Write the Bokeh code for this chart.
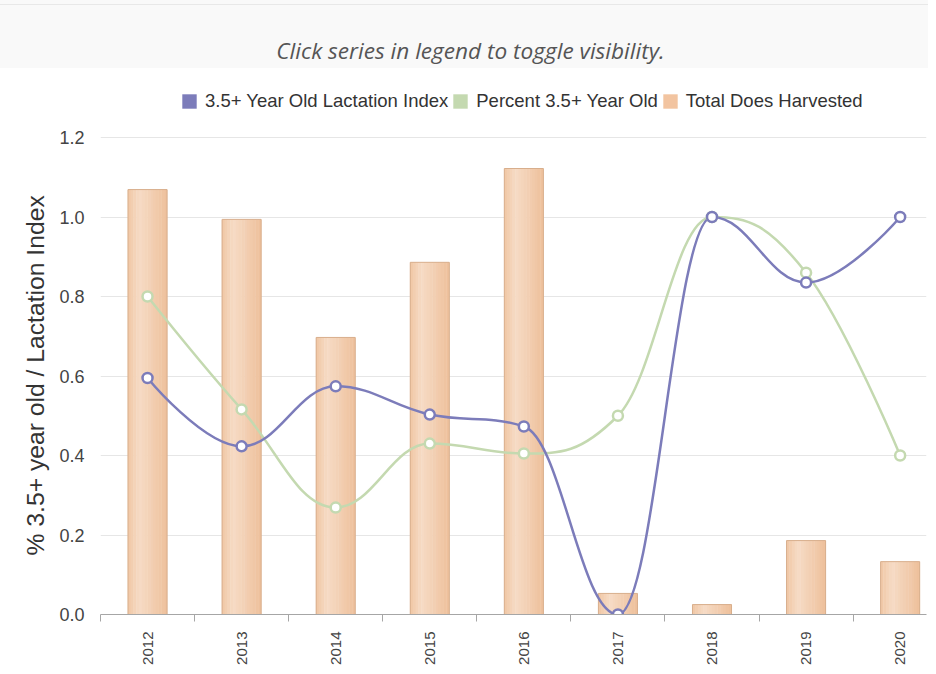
import numpy as np
from bokeh.plotting import figure
from bokeh.models import (Range1d, FixedTicker, PrintfTickFormatter, Legend,
                          LegendItem, Div, ColumnDataSource, Title)
from bokeh.layouts import column
from bokeh.embed import file_html
from bokeh.resources import INLINE

# ---------------- data ----------------
years = ["2012", "2013", "2014", "2015", "2016", "2017", "2018", "2019", "2020"]
lactation_index = [0.595, 0.423, 0.574, 0.503, 0.473, 0.0, 1.0, 0.835, 1.0]
percent_35_old = [0.80, 0.516, 0.269, 0.430, 0.405, 0.50, 1.0, 0.86, 0.40]
does_harvested = [1.069, 0.994, 0.697, 0.886, 1.122, 0.053, 0.025, 0.186, 0.133]
y_ticks = [0.0, 0.2, 0.4, 0.6, 0.8, 1.0, 1.2]

series_names = ["3.5+ Year Old Lactation Index", "Percent 3.5+ Year Old", "Total Does Harvested"]
title_text = "Click series in legend to toggle visibility."
y_label = "% 3.5+ year old / Lactation Index"

# ---------------- styles ----------------
BLUE = "#7c7cba"
GREEN = "#c4d9b0"
PEACH = "#f2c4a0"
BAR_LINE = "#d8ae8c"
FONT = "Liberation Sans"

xs = list(range(len(years)))


def spline_segments(px, py, smoothing=1.5):
    """Highcharts-style spline control points."""
    n = len(px)
    denom = smoothing + 1
    left = [None] * n
    right = [None] * n
    for i in range(1, n - 1):
        x, y = px[i], py[i]
        lx, ly = px[i - 1], py[i - 1]
        nx, ny = px[i + 1], py[i + 1]
        lcx = (smoothing * x + lx) / denom
        lcy = (smoothing * y + ly) / denom
        rcx = (smoothing * x + nx) / denom
        rcy = (smoothing * y + ny) / denom
        corr = 0.0
        if rcx != lcx:
            corr = ((rcy - lcy) * (rcx - x)) / (rcx - lcx) + y - rcy
        lcy += corr
        rcy += corr
        if lcy > ly and lcy > y:
            lcy = max(ly, y)
            rcy = 2 * y - lcy
        elif lcy < ly and lcy < y:
            lcy = min(ly, y)
            rcy = 2 * y - lcy
        if rcy > ny and rcy > y:
            rcy = max(ny, y)
            lcy = 2 * y - rcy
        elif rcy < ny and rcy < y:
            rcy = min(ny, y)
            lcy = 2 * y - rcy
        left[i] = (lcx, lcy)
        right[i] = (rcx, rcy)
    d = dict(x0=[], y0=[], x1=[], y1=[], cx0=[], cy0=[], cx1=[], cy1=[])
    for i in range(1, n):
        c0 = right[i - 1] if right[i - 1] else (px[i - 1], py[i - 1])
        c1 = left[i] if left[i] else (px[i], py[i])
        d["x0"].append(px[i - 1]); d["y0"].append(py[i - 1])
        d["x1"].append(px[i]); d["y1"].append(py[i])
        d["cx0"].append(c0[0]); d["cy0"].append(c0[1])
        d["cx1"].append(c1[0]); d["cy1"].append(c1[1])
    return ColumnDataSource(d)


# frame spans from just above the legend down to the x axis; gridlines stop at 1.2
p = figure(width=928, height=602, output_backend="svg", toolbar_location=None,
           x_range=Range1d(-0.5, 8.28), y_range=Range1d(0, 1.3434),
           min_border_left=100, min_border_right=2, min_border_top=12,
           min_border_bottom=56)
p.background_fill_color = "white"
p.border_fill_color = "white"
p.outline_line_alpha = 0

# ---------------- bars with horizontal gradient ----------------
bar_w = 0.415
stops = [(0.0, (0xf0, 0xc7, 0xa4)), (0.3, (0xf6, 0xdb, 0xc5)), (1.0, (0xee, 0xc0, 0x9b))]


def grad_color(t):
    for (t0, c0), (t1, c1) in zip(stops[:-1], stops[1:]):
        if t0 <= t <= t1:
            f = (t - t0) / (t1 - t0)
            c = [round(a + (b - a) * f) for a, b in zip(c0, c1)]
            return "#%02x%02x%02x" % tuple(c)
    return "#%02x%02x%02x" % stops[-1][1]


n_strips = 14
sw = bar_w / n_strips
for k in range(n_strips):
    t = (k + 0.5) / n_strips
    off = -bar_w / 2 + (k + 0.5) * sw
    p.vbar(x=[x + off for x in xs], top=does_harvested, width=sw * 1.15,
           fill_color=grad_color(t), line_alpha=0)
p.vbar(x=xs, top=does_harvested, width=bar_w, fill_alpha=0,
       line_color=BAR_LINE, line_width=1)

# ---------------- spline lines ----------------
p.bezier(x0="x0", y0="y0", x1="x1", y1="y1", cx0="cx0", cy0="cy0", cx1="cx1", cy1="cy1",
         source=spline_segments(xs, percent_35_old), line_color=GREEN, line_width=2.5)
p.bezier(x0="x0", y0="y0", x1="x1", y1="y1", cx0="cx0", cy0="cy0", cx1="cx1", cy1="cy1",
         source=spline_segments(xs, lactation_index), line_color=BLUE, line_width=2.5)
p.scatter(xs, percent_35_old, size=10, fill_color="white", line_color=GREEN, line_width=2.5)
p.scatter(xs, lactation_index, size=10, fill_color="white", line_color=BLUE, line_width=2.5)

# ---------------- legend (square swatches from zero-height dummy bars) ----------------
dummy = dict(x=[xs[0]], top=[0.0])
r_blue = p.vbar(x="x", top="top", source=ColumnDataSource(dummy), width=0.1,
                fill_color=BLUE, line_alpha=0)
r_green = p.vbar(x="x", top="top", source=ColumnDataSource(dummy), width=0.1,
                 fill_color=GREEN, line_alpha=0)
r_peach = p.vbar(x="x", top="top", source=ColumnDataSource(dummy), width=0.1,
                 fill_color=PEACH, line_alpha=0)
legend = Legend(items=[LegendItem(label=series_names[0], renderers=[r_blue]),
                       LegendItem(label=series_names[1], renderers=[r_green]),
                       LegendItem(label=series_names[2], renderers=[r_peach])],
                orientation="horizontal", location=(80, 502),
                glyph_width=18, glyph_height=18, label_standoff=7, spacing=3,
                padding=0, margin=0, border_line_alpha=0, background_fill_alpha=0,
                label_text_font=FONT, label_text_font_size="18.5px",
                label_text_color="#333333")
p.add_layout(legend, "center")

# ---------------- axes ----------------
xa = p.xaxis[0]
xa.ticker = FixedTicker(ticks=xs, minor_ticks=[x - 0.5 for x in xs])
xa.major_label_overrides = {x: y for x, y in zip(xs, years)}
xa.major_label_orientation = np.pi / 2
xa.major_tick_out = 0
xa.major_tick_in = 0
xa.minor_tick_out = 7
xa.minor_tick_in = 0
xa.axis_line_color = "#a6a6a6"
xa.minor_tick_line_color = "#a6a6a6"
xa.major_label_standoff = 10
xa.major_label_text_font = FONT
xa.major_label_text_font_size = "15px"
xa.major_label_text_color = "#444444"

ya = p.yaxis[0]
ya.ticker = FixedTicker(ticks=y_ticks)
ya.formatter = PrintfTickFormatter(format="%.1f")
ya.axis_line_alpha = 0
ya.major_tick_line_alpha = 0
ya.minor_tick_line_alpha = 0
ya.major_label_standoff = 10
ya.major_label_text_font = FONT
ya.major_label_text_font_size = "18px"
ya.major_label_text_color = "#444444"

# y-axis title, anchored so that it is centred on the 0..1.2 part of the frame
ytitle = Title(text=y_label, align="left", offset=59, text_font=FONT,
               text_font_size="24.7px", text_font_style="normal",
               text_color="#333333", standoff=15)
p.add_layout(ytitle, "left")

p.xgrid.grid_line_alpha = 0
p.ygrid.grid_line_color = "#e6e6e6"
p.ygrid.grid_line_width = 1

title = Div(text=('<div style="width:928px;height:68px;box-sizing:border-box;">'
                  '<div style="height:5px;border-bottom:1px solid #e8e8e8;"></div>'
                  '<div style="padding-top:33px;padding-left:13px;text-align:center;'
                  'font-family:\'Open Sans\';'
                  'font-style:italic;font-size:22.6px;line-height:26px;color:#555555;">'
                  + title_text + '</div></div>'),
            width=928, height=68, margin=0,
            styles={"background-color": "#f9f9f9"})
p.margin = 0

layout = column(title, p, spacing=0)
open("out.html", "w").write(file_html(layout, INLINE))
